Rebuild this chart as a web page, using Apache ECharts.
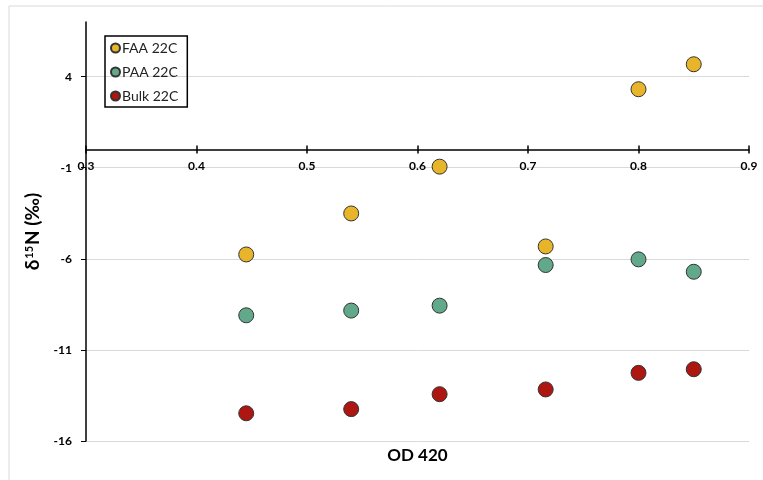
<!DOCTYPE html>
<html>
<head>
<meta charset="utf-8">
<script src="https://cdn.jsdelivr.net/npm/echarts@6/dist/echarts.min.js"></script>
<style>
    html, body { margin: 0; padding: 0; background: #fff; }
    #chart { width: 763px; height: 480px; }
</style>
</head>
<body>
<div id="chart"></div>
<script>
// OD 420 readings for each sampling point
var od420 = [0.445, 0.54, 0.62, 0.716, 0.80, 0.85];

// d15N values (per mil)
var faa22c = [-5.76, -3.51, -0.94, -5.32, 3.31, 4.68];
var paa22c = [-9.10, -8.84, -8.57, -6.34, -6.03, -6.71];
var bulk22c = [-14.48, -14.25, -13.43, -13.17, -12.26, -12.06];

var seriesNames = ['FAA 22C', 'PAA 22C', 'Bulk 22C'];
var seriesColors = ['#E8B52A', '#62A88A', '#AE1611'];

// axis ticks
var yTicks = [-16, -11, -6, -1, 4];

var font = 'Lato';

function pairs(ys) {
    var out = [];
    for (var i = 0; i < od420.length; ++i) {
        out.push([od420[i], ys[i]]);
    }
    return out;
}

var allValues = [faa22c, paa22c, bulk22c];

// x labels sit next to the zero line, not at the bottom of the plot,
// so a second label-only axis is shifted up to the zero line
var plotBottom = 441;
var plotTop = 22;
var yMin = -16;
var yMax = 7;
var zeroOffset = (0 - yMin) / (yMax - yMin) * (plotBottom - plotTop);

var xBase = {
    type: 'value',
    min: 0.3,
    max: 0.9,
    interval: 0.1,
    splitLine: { show: false }
};

var chart = echarts.init(document.getElementById('chart'));
chart.setOption({
    animation: false,
    textStyle: { fontFamily: font },
    graphic: [{
        type: 'rect',
        shape: { x: 9, y: 6, width: 800, height: 520 },
        style: { fill: 'none', stroke: '#d9d9d9', lineWidth: 1 },
        z: -10
    }],
    grid: { left: 86, right: 14, top: plotTop, bottom: 480 - plotBottom, outerBoundsMode: 'none', containLabel: false },
    legend: {
        data: seriesNames,
        orient: 'vertical',
        left: 105,
        top: 36,
        icon: 'circle',
        itemWidth: 9,
        itemHeight: 9,
        itemGap: 10,
        padding: [5, 9, 4, 5],
        borderColor: '#000',
        borderWidth: 1.5,
        textStyle: { fontSize: 14, color: '#222', fontFamily: font, padding: [0, 0, 0, -3] }
    },
    xAxis: [
        echarts.util.merge({
            name: 'OD 420',
            nameLocation: 'middle',
            nameGap: 6,
            nameTextStyle: { fontSize: 17, fontWeight: 'bold', color: '#000', verticalAlign: 'top' },
            axisLine: { onZero: true, lineStyle: { color: '#000', width: 1.5 } },
            axisTick: { show: true, inside: true, length: 4, lineStyle: { color: '#000', width: 1.5 } },
            axisLabel: { show: false }
        }, xBase),
        echarts.util.merge({
            position: 'bottom',
            offset: -zeroOffset,
            axisLine: { show: false, onZero: false },
            axisTick: { show: true, length: 4, lineStyle: { color: '#000', width: 1.5 } },
            axisLabel: {
                color: '#000',
                fontWeight: 'bold',
                fontSize: 12,
                margin: 11,
                formatter: function (v) {
                    return v.toFixed(1);
                }
            }
        }, xBase)
    ],
    yAxis: {
        type: 'value',
        min: yMin,
        max: yMax,
        name: '{a|δ}{s|15}{a|N (‰)}',
        nameLocation: 'middle',
        nameGap: 40,
        nameRotate: 90,
        nameTextStyle: {
            rich: {
                a: { fontSize: 19, fontWeight: 'bold', color: '#000', fontFamily: font },
                s: { fontSize: 11, fontWeight: 'bold', color: '#000', fontFamily: font, verticalAlign: 'top', padding: [0, 1, 7, 1] }
            }
        },
        axisLine: { show: true, lineStyle: { color: '#000', width: 1.5 } },
        axisTick: { show: true, length: 5, customValues: yTicks, lineStyle: { color: '#000', width: 1 } },
        axisLabel: {
            customValues: yTicks,
            color: '#000',
            fontWeight: 'bold',
            fontSize: 12,
            margin: 14
        },
        splitLine: { show: true, lineStyle: { color: '#d9d9d9', width: 1 } }
    },
    series: seriesNames.map(function (name, i) {
        return {
            name: name,
            type: 'scatter',
            symbol: 'circle',
            symbolSize: 15,
            data: pairs(allValues[i]),
            itemStyle: { color: seriesColors[i], opacity: 1, borderColor: '#333', borderWidth: 1 }
        };
    })
});
</script>
</body>
</html>
